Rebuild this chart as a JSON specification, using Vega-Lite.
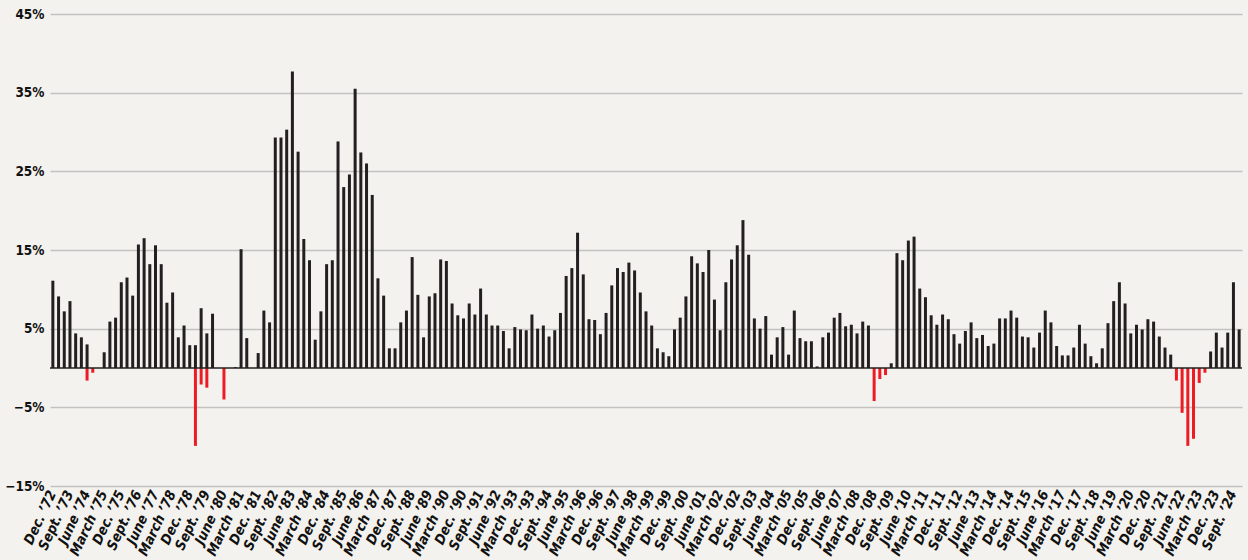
{
  "$schema": "https://vega.github.io/schema/vega-lite/v6.json",
  "width": 1192,
  "height": 472,
  "autosize": "none",
  "padding": {"left": 50, "top": 14, "right": 6, "bottom": 74},
  "background": "#f3f2ee",
  "config": {"view": {"stroke": null}},
  "layer": [
    {
      "data": {"values": [
        {"q":"Dec. ’72","v":11.1},{"q":"March ’73","v":9.1},{"q":"June ’73","v":7.2},{"q":"Sept. ’73","v":8.5},
        {"q":"Dec. ’73","v":4.4},{"q":"March ’74","v":3.9},{"q":"June ’74","v":3.0},{"q":"June ’74","v":-1.6},{"q":"Sept. ’74","v":-0.6},
        {"q":"Dec. ’74","v":0},{"q":"March ’75","v":2.0},{"q":"June ’75","v":5.9},{"q":"Sept. ’75","v":6.4},
        {"q":"Dec. ’75","v":10.9},{"q":"March ’76","v":11.5},{"q":"June ’76","v":9.2},{"q":"Sept. ’76","v":15.7},
        {"q":"Dec. ’76","v":16.5},{"q":"March ’77","v":13.2},{"q":"June ’77","v":15.6},{"q":"Sept. ’77","v":13.2},
        {"q":"Dec. ’77","v":8.3},{"q":"March ’78","v":9.6},{"q":"June ’78","v":3.9},{"q":"Sept. ’78","v":5.4},
        {"q":"Dec. ’78","v":2.9},{"q":"March ’79","v":2.9},{"q":"March ’79","v":-9.9},{"q":"June ’79","v":7.6},{"q":"June ’79","v":-2.1},{"q":"Sept. ’79","v":4.4},{"q":"Sept. ’79","v":-2.5},
        {"q":"Dec. ’79","v":6.9},{"q":"March ’80","v":0},{"q":"June ’80","v":-4.0},{"q":"Sept. ’80","v":0},
        {"q":"Dec. ’80","v":0.1},{"q":"March ’81","v":15.1},{"q":"June ’81","v":3.8},{"q":"Sept. ’81","v":0},
        {"q":"Dec. ’81","v":1.9},{"q":"March ’82","v":7.3},{"q":"June ’82","v":5.8},{"q":"Sept. ’82","v":29.3},
        {"q":"Dec. ’82","v":29.3},{"q":"March ’83","v":30.3},{"q":"June ’83","v":37.7},{"q":"Sept. ’83","v":27.5},
        {"q":"Dec. ’83","v":16.4},{"q":"March ’84","v":13.7},{"q":"June ’84","v":3.6},{"q":"Sept. ’84","v":7.2},
        {"q":"Dec. ’84","v":13.2},{"q":"March ’85","v":13.7},{"q":"June ’85","v":28.8},{"q":"Sept. ’85","v":23.0},
        {"q":"Dec. ’85","v":24.6},{"q":"March ’86","v":35.5},{"q":"June ’86","v":27.4},{"q":"Sept. ’86","v":26.0},
        {"q":"Dec. ’86","v":22.0},{"q":"March ’87","v":11.4},{"q":"June ’87","v":9.2},{"q":"Sept. ’87","v":2.5},
        {"q":"Dec. ’87","v":2.5},{"q":"March ’88","v":5.8},{"q":"June ’88","v":7.3},{"q":"Sept. ’88","v":14.1},
        {"q":"Dec. ’88","v":9.3},{"q":"March ’89","v":3.9},{"q":"June ’89","v":9.1},{"q":"Sept. ’89","v":9.5},
        {"q":"Dec. ’89","v":13.8},{"q":"March ’90","v":13.6},{"q":"June ’90","v":8.2},{"q":"Sept. ’90","v":6.7},
        {"q":"Dec. ’90","v":6.3},{"q":"March ’91","v":8.2},{"q":"June ’91","v":6.8},{"q":"Sept. ’91","v":10.1},
        {"q":"Dec. ’91","v":6.8},{"q":"March ’92","v":5.4},{"q":"June ’92","v":5.4},{"q":"Sept. ’92","v":4.7},
        {"q":"Dec. ’92","v":2.5},{"q":"March ’93","v":5.2},{"q":"June ’93","v":4.9},{"q":"Sept. ’93","v":4.8},
        {"q":"Dec. ’93","v":6.8},{"q":"March ’94","v":5.0},{"q":"June ’94","v":5.4},{"q":"Sept. ’94","v":4.0},
        {"q":"Dec. ’94","v":4.8},{"q":"March ’95","v":7.0},{"q":"June ’95","v":11.7},{"q":"Sept. ’95","v":12.7},
        {"q":"Dec. ’95","v":17.2},{"q":"March ’96","v":11.9},{"q":"June ’96","v":6.2},{"q":"Sept. ’96","v":6.1},
        {"q":"Dec. ’96","v":4.3},{"q":"March ’97","v":7.0},{"q":"June ’97","v":10.5},{"q":"Sept. ’97","v":12.7},
        {"q":"Dec. ’97","v":12.2},{"q":"March ’98","v":13.4},{"q":"June ’98","v":12.4},{"q":"Sept. ’98","v":9.6},
        {"q":"Dec. ’98","v":7.2},{"q":"March ’99","v":5.4},{"q":"June ’99","v":2.5},{"q":"Sept. ’99","v":2.0},
        {"q":"Dec. ’99","v":1.5},{"q":"March ’00","v":4.9},{"q":"June ’00","v":6.4},{"q":"Sept. ’00","v":9.1},
        {"q":"Dec. ’00","v":14.2},{"q":"March ’01","v":13.3},{"q":"June ’01","v":12.2},{"q":"Sept. ’01","v":15.0},
        {"q":"Dec. ’01","v":8.7},{"q":"March ’02","v":4.8},{"q":"June ’02","v":10.9},{"q":"Sept. ’02","v":13.8},
        {"q":"Dec. ’02","v":15.6},{"q":"March ’03","v":18.8},{"q":"June ’03","v":14.4},{"q":"Sept. ’03","v":6.3},
        {"q":"Dec. ’03","v":5.0},{"q":"March ’04","v":6.6},{"q":"June ’04","v":1.7},{"q":"Sept. ’04","v":3.9},
        {"q":"Dec. ’04","v":5.2},{"q":"March ’05","v":1.7},{"q":"June ’05","v":7.3},{"q":"Sept. ’05","v":3.8},
        {"q":"Dec. ’05","v":3.4},{"q":"March ’06","v":3.4},{"q":"June ’06","v":0.2},{"q":"Sept. ’06","v":3.9},
        {"q":"Dec. ’06","v":4.5},{"q":"March ’07","v":6.4},{"q":"June ’07","v":7.0},{"q":"Sept. ’07","v":5.3},
        {"q":"Dec. ’07","v":5.5},{"q":"March ’08","v":4.4},{"q":"June ’08","v":5.9},{"q":"Sept. ’08","v":5.4},
        {"q":"Dec. ’08","v":-4.2},{"q":"March ’09","v":-1.4},{"q":"June ’09","v":-0.9},{"q":"Sept. ’09","v":0.6},
        {"q":"Dec. ’09","v":14.6},{"q":"March ’10","v":13.7},{"q":"June ’10","v":16.2},{"q":"Sept. ’10","v":16.7},
        {"q":"Dec. ’10","v":10.1},{"q":"March ’11","v":9.0},{"q":"June ’11","v":6.7},{"q":"Sept. ’11","v":5.5},
        {"q":"Dec. ’11","v":6.8},{"q":"March ’12","v":6.2},{"q":"June ’12","v":4.3},{"q":"Sept. ’12","v":3.1},
        {"q":"Dec. ’12","v":4.7},{"q":"March ’13","v":5.8},{"q":"June ’13","v":3.8},{"q":"Sept. ’13","v":4.2},
        {"q":"Dec. ’13","v":2.8},{"q":"March ’14","v":3.1},{"q":"June ’14","v":6.3},{"q":"Sept. ’14","v":6.3},
        {"q":"Dec. ’14","v":7.3},{"q":"March ’15","v":6.4},{"q":"June ’15","v":4.0},{"q":"Sept. ’15","v":3.9},
        {"q":"Dec. ’15","v":2.6},{"q":"March ’16","v":4.5},{"q":"June ’16","v":7.3},{"q":"Sept. ’16","v":5.8},
        {"q":"Dec. ’16","v":2.8},{"q":"March ’17","v":1.6},{"q":"June ’17","v":1.6},{"q":"Sept. ’17","v":2.6},
        {"q":"Dec. ’17","v":5.5},{"q":"March ’18","v":3.1},{"q":"June ’18","v":1.5},{"q":"Sept. ’18","v":0.6},
        {"q":"Dec. ’18","v":2.5},{"q":"March ’19","v":5.7},{"q":"June ’19","v":8.5},{"q":"Sept. ’19","v":10.9},
        {"q":"Dec. ’19","v":8.2},{"q":"March ’20","v":4.4},{"q":"June ’20","v":5.5},{"q":"Sept. ’20","v":4.9},
        {"q":"Dec. ’20","v":6.2},{"q":"March ’21","v":5.9},{"q":"June ’21","v":4.0},{"q":"Sept. ’21","v":2.6},
        {"q":"Dec. ’21","v":1.7},{"q":"March ’22","v":-1.6},{"q":"June ’22","v":-5.7},{"q":"Sept. ’22","v":-9.9},
        {"q":"Dec. ’22","v":-9.0},{"q":"March ’23","v":-1.9},{"q":"June ’23","v":-0.6},{"q":"Sept. ’23","v":2.1},
        {"q":"Dec. ’23","v":4.5},{"q":"March ’24","v":2.6},{"q":"June ’24","v":4.5},{"q":"Sept. ’24","v":10.9},
        {"q":"Dec. ’24","v":4.9}
      ]},
      "mark": {"type": "bar", "width": 3},
      "encoding": {
        "x": {
          "field": "q", "type": "ordinal", "sort": null,
          "scale": {"paddingInner": 0, "paddingOuter": 0},
          "axis": {
            "title": null, "domain": false, "ticks": false, "grid": false,
            "labelAngle": -65, "labelAlign": "right", "labelBaseline": "middle",
            "labelPadding": 5, "labelFont": "DejaVu Sans Condensed",
            "labelFontSize": 14, "labelFontWeight": "bold", "labelFontStyle": "italic", "labelColor": "#111111",
            "labelOverlap": false, "labelBound": false, "labelFlush": false,
            "values": ["Dec. ’72","Sept. ’73","June ’74","March ’75","Dec. ’75","Sept. ’76","June ’77","March ’78","Dec. ’78","Sept. ’79","June ’80","March ’81","Dec. ’81","Sept. ’82","June ’83","March ’84","Dec. ’84","Sept. ’85","June ’86","March ’87","Dec. ’87","Sept. ’88","June ’89","March ’90","Dec. ’90","Sept. ’91","June ’92","March ’93","Dec. ’93","Sept. ’94","June ’95","March ’96","Dec. ’96","Sept. ’97","June ’98","March ’99","Dec. ’99","Sept. ’00","June ’01","March ’02","Dec. ’02","Sept. ’03","June ’04","March ’05","Dec. ’05","Sept. ’06","June ’07","March ’08","Dec. ’08","Sept. ’09","June ’10","March ’11","Dec. ’11","Sept. ’12","June ’13","March ’14","Dec. ’14","Sept. ’15","June ’16","March ’17","Dec. ’17","Sept. ’18","June ’19","March ’20","Dec. ’20","Sept. ’21","June ’22","March ’23","Dec. ’23","Sept. ’24"]
          }
        },
        "y": {
          "field": "v", "type": "quantitative",
          "scale": {"domain": [-15, 45], "nice": false, "zero": false},
          "axis": {
            "title": null, "domain": false, "ticks": false,
            "values": [-15, -5, 5, 15, 25, 35, 45],
            "labelExpr": "(datum.value < 0 ? '−' : '') + abs(datum.value) + '%'",
            "labelFont": "DejaVu Sans Condensed",
            "labelFontSize": 13.5, "labelFontWeight": "bold", "labelColor": "#111111", "labelPadding": 6,
            "gridColor": "#c2c2c2", "gridWidth": 1.3
          }
        },
        "color": {"condition": {"test": "datum.v < 0", "value": "#ed1c24"}, "value": "#231f20"}
      }
    },
    {
      "data": {"values": [{"z": 0}]},
      "mark": {"type": "rule", "color": "#231f20", "strokeWidth": 1.5},
      "encoding": {"y": {"field": "z", "type": "quantitative"}}
    }
  ]
}
